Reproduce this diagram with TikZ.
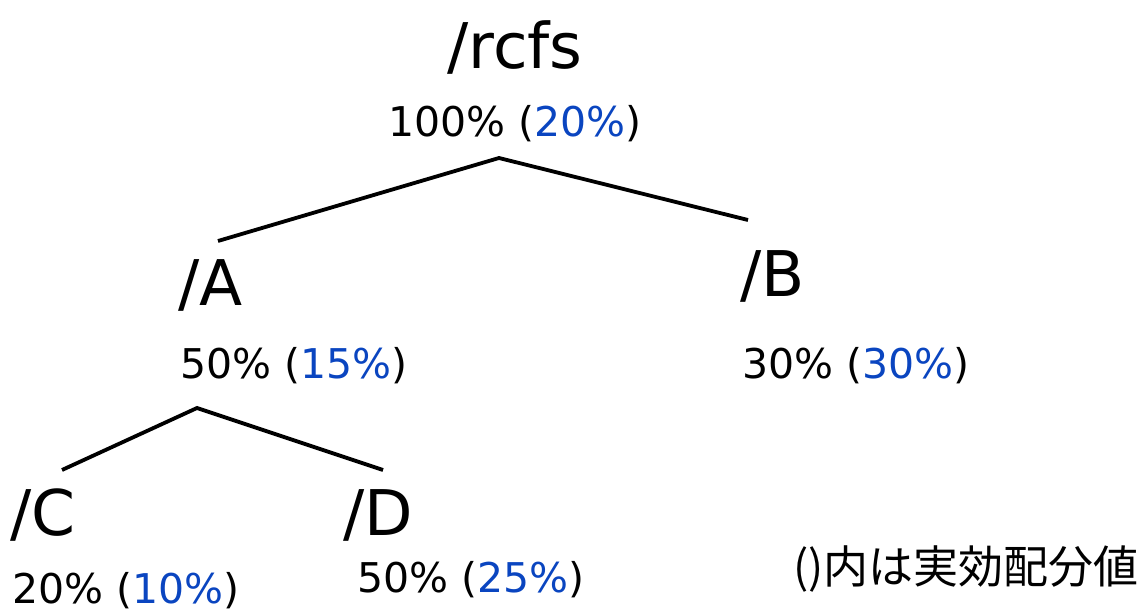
\documentclass[tikz,border=0pt]{standalone}
\usepackage{fontspec}
\setmainfont{DejaVu Sans}
\newfontfamily\jpfont{Noto Sans CJK JP}
\definecolor{effblue}{HTML}{0A45C0}
\begin{document}
\begin{tikzpicture}[x=1pt,y=-1pt,
  dirname/.style={anchor=base west,inner sep=0pt,font=\fontsize{63}{63}\selectfont},
  share/.style={anchor=base west,inner sep=0pt,font=\fontsize{41}{41}\selectfont},
  branch/.style={line width=3.8pt,line join=miter}]
\useasboundingbox (0,0) rectangle (1141,612);
\newcommand{\eff}[1]{\textcolor{effblue}{#1}}

% directory names
\node[dirname] (rcfs) at (447,69) {/rcfs};
\node[dirname] (a) at (178,306) {/A};
\node[dirname] (b) at (740,297) {/B};
\node[dirname] (c) at (10,535) {/C};
\node[dirname] (d) at (343,535) {/D};

% configured share and effective share
\node[share] (rcfspct) at (388,137) {100\% (\eff{20\%})};
\node[share] (apct) at (180,378) {50\% (\eff{15\%})};
\node[share] (bpct) at (742,378) {30\% (\eff{30\%})};
\node[share] (cpct) at (12,603) {20\% (\eff{10\%})};
\node[share] (dpct) at (357,592) {50\% (\eff{25\%})};

\node[anchor=base west,inner sep=0pt,font=\jpfont\fontsize{45}{45}\selectfont] (note) at (793,583) {()内は実効配分値};

% branches
\coordinate (rcfsfork) at (499,158);
\coordinate (atop) at (218,241);
\coordinate (btop) at (748,220);
\coordinate (afork) at (197,408);
\coordinate (ctop) at (62,470);
\coordinate (dtop) at (383,470);
\draw[branch] (atop) -- (rcfsfork) -- (btop);
\draw[branch] (ctop) -- (afork) -- (dtop);
\end{tikzpicture}
\end{document}
